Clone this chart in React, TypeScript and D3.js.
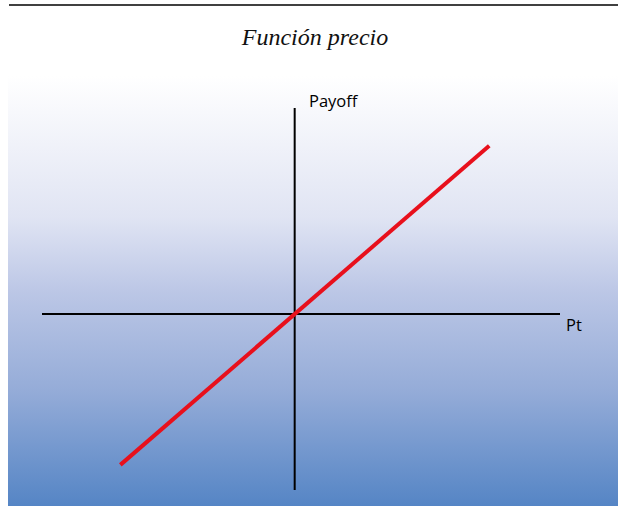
import React from "react";
import * as d3 from "d3";

const title = "Función precio";
const xLabel = "Pt";
const yLabel = "Payoff";
const xDomain = [-1, 1.05];
const yDomain = [-0.805, 0.943];
const pt = [-0.69, 0.77];
const payoff = [-0.69, 0.77];

export default function App() {
  const W = 618, H = 506;
  const x = d3.scaleLinear().domain(xDomain).range([42, 560]);
  const y = d3.scaleLinear().domain(yDomain).range([490, 108]);
  const pts: [number, number][] = pt.map((p, i) => [p, payoff[i]]);
  const line = d3.line<[number, number]>().x(d => x(d[0])).y(d => y(d[1]));
  return (
    <svg width={W} height={H} style={{ position: "absolute", left: 0, top: 0 }}>
      <defs>
        <linearGradient id="bg" x1="0" y1="0" x2="0" y2="1">
          <stop offset="0" stopColor="#ffffff" />
          <stop offset="0.33" stopColor="#e0e4f3" />
          <stop offset="0.5" stopColor="#bcc7e6" />
          <stop offset="0.73" stopColor="#95acd8" />
          <stop offset="1" stopColor="#5585c5" />
        </linearGradient>
      </defs>
      <rect x={0} y={0} width={W} height={H} fill="#fff" />
      <line x1={9} x2={618} y1={5} y2={5} stroke="#000" strokeWidth={1.5} />
      <text x={315} y={45} textAnchor="middle" fontFamily="'Liberation Serif', serif" fontStyle="italic" fontSize={24} fill="#111">{title}</text>
      <rect x={8} y={76} width={610} height={430} fill="url(#bg)" />
      <line x1={x(xDomain[0])} x2={x(xDomain[1])} y1={y(0)} y2={y(0)} stroke="#000" strokeWidth={2} />
      <line x1={x(0)} x2={x(0)} y1={y(yDomain[0])} y2={y(yDomain[1])} stroke="#000" strokeWidth={2} />
      <path d={line(pts) || ""} stroke="#e8101c" strokeWidth={4} fill="none" />
      <text x={309} y={107} fontFamily="'Open Sans', sans-serif" fontSize={16.5} fill="#000">{yLabel}</text>
      <text x={566} y={331} fontFamily="'Open Sans', sans-serif" fontSize={16.5} fill="#000">{xLabel}</text>
    </svg>
  );
}
